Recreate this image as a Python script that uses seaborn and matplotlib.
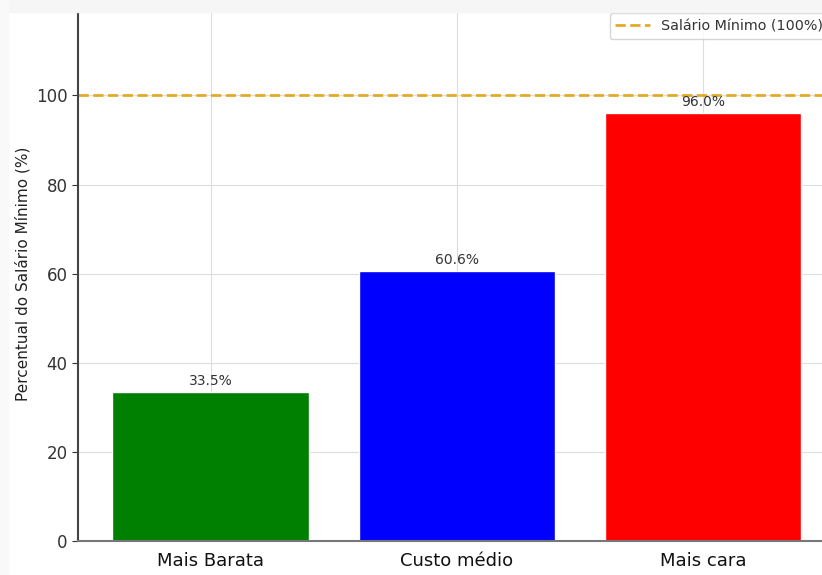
import matplotlib
matplotlib.use('Agg')
import matplotlib.pyplot as plt
from matplotlib.patches import Rectangle
import pandas as pd
import seaborn as sns

# data
categories = ['Mais Barata', 'Custo médio', 'Mais cara']
percentuais = [33.5, 60.6, 96.0]
bar_colors = ['#008000', '#0000ff', '#ff0000']
salario_minimo = 100
yticks = [0, 20, 40, 60, 80, 100, 120]

df = pd.DataFrame({'Categoria': categories, 'Percentual': percentuais})

sns.set_style('whitegrid')
fig = plt.figure(figsize=(8.22, 5.75), dpi=100)
# the screenshot is cropped, so the axes run past the top and right edges
ax = fig.add_axes([0.0949, 0.0591, 0.922, 0.930])

sns.barplot(data=df, x='Categoria', y='Percentual', hue='Categoria',
            palette=bar_colors, width=0.8, saturation=1, legend=False, ax=ax)

for cont in ax.containers:
    ax.bar_label(cont, fmt='%.1f%%', padding=3, fontsize=10, color='#333333')

ax.axhline(salario_minimo, color='#e3aa2a', linestyle='--', linewidth=2,
           label='Salário Mínimo (100%)')
leg = ax.legend(loc='upper right', fontsize=10.3, frameon=True, handlelength=2.4)
for t in leg.get_texts():
    t.set_color('#333333')

ax.set_ylim(0, 120)
ax.set_xlim(-0.54, 2.54)
ax.set_yticks(yticks)
ax.set_xlabel('')
ax.set_ylabel('Percentual do Salário Mínimo (%)', fontsize=11, color='#222222')
ax.tick_params(axis='y', labelsize=12, length=4, left=True, colors='#333333')
ax.tick_params(axis='x', labelsize=13, length=0, pad=8, labelcolor='#111111')
ax.grid(True, color='#dddddd', linewidth=0.8)

for side in ['top', 'right']:
    ax.spines[side].set_visible(False)
ax.spines['left'].set_color('#444444')
ax.spines['bottom'].set_color('#777777')
ax.spines['left'].set_linewidth(1.5)
ax.spines['bottom'].set_linewidth(1.5)

# light gray strips from the screenshot border
fig.add_artist(Rectangle((0, 1 - 12 / 575), 1, 12 / 575, transform=fig.transFigure,
                         color='#f6f6f6', zorder=10))
fig.add_artist(Rectangle((0, 0), 8 / 822, 1, transform=fig.transFigure,
                         color='#f9f9f9', zorder=10))

fig.savefig('out.png', dpi=100)
